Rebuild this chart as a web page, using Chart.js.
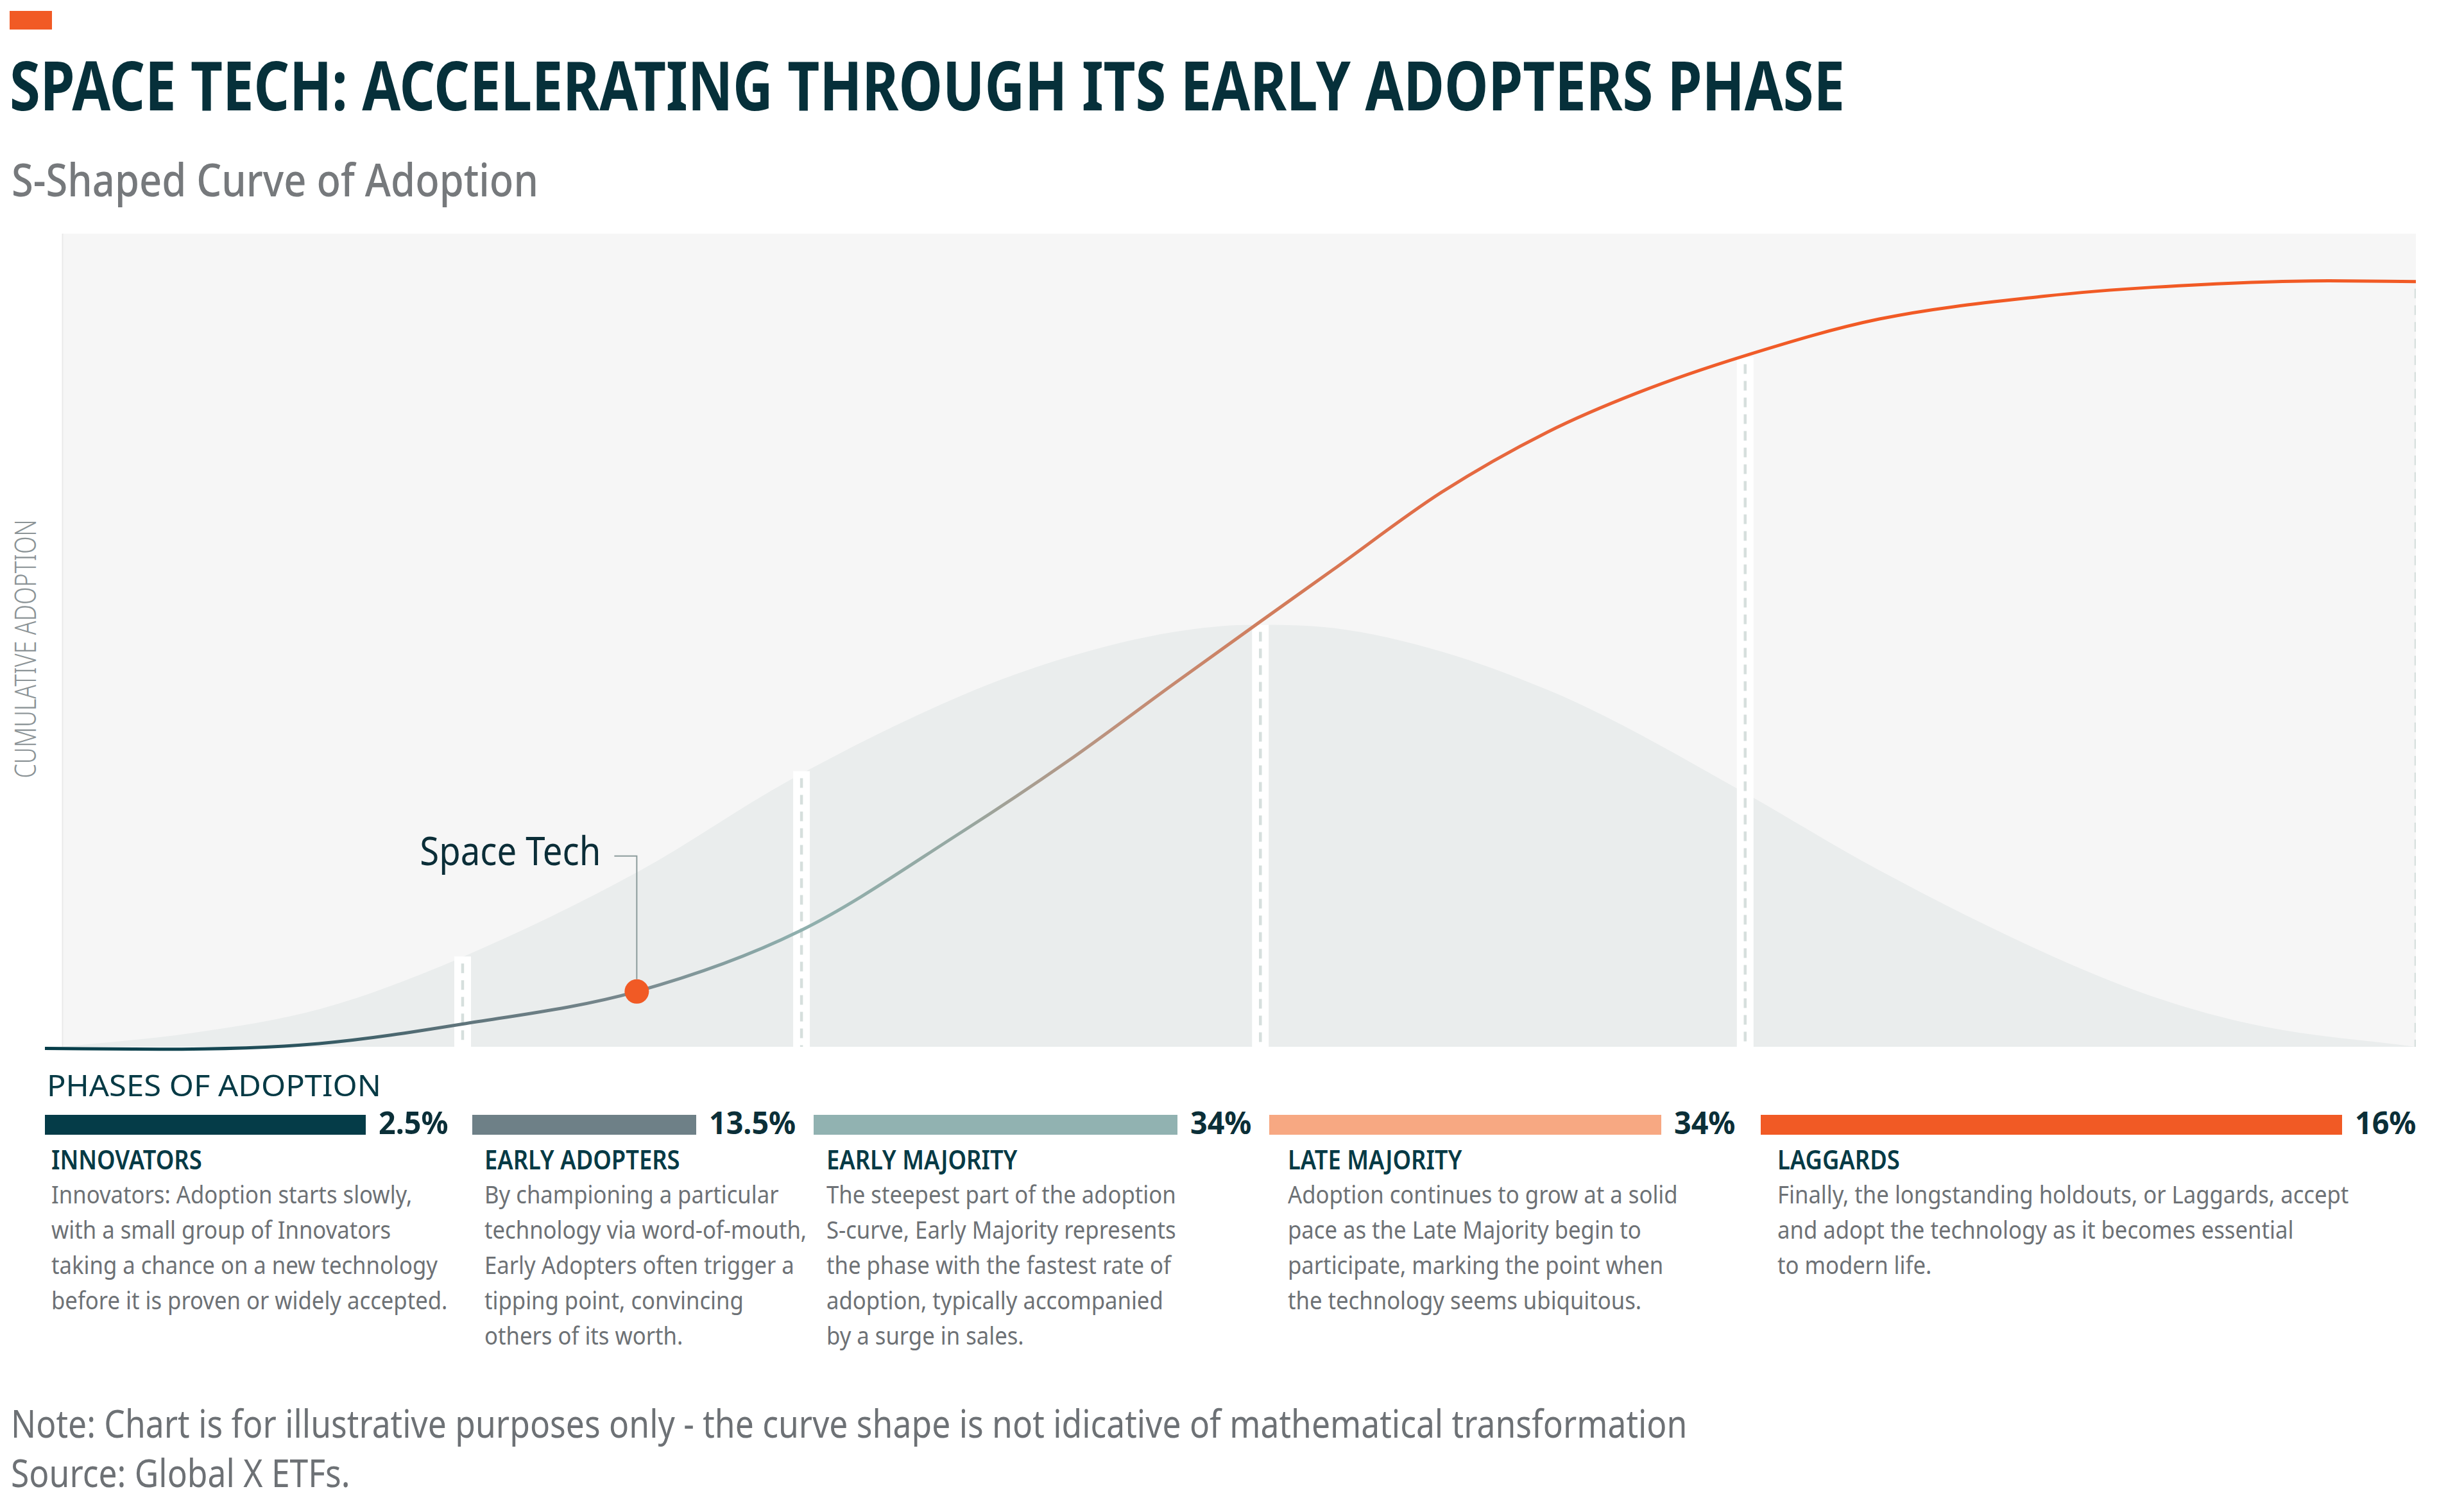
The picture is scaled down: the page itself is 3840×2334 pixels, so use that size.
<!DOCTYPE html>
<html>
<head>
<meta charset="utf-8">
<title>Space Tech: Accelerating Through Its Early Adopters Phase</title>
<script src="https://cdn.jsdelivr.net/npm/chart.js@4.4.1/dist/chart.umd.min.js"></script>
<style>
    body {
        margin: 0;
        width: 3840px;
        height: 2334px;
        position: relative;
        overflow: hidden;
        background: #ffffff;
        font-family: "Noto Sans", Roboto, "DejaVu Sans", sans-serif;
        font-stretch: condensed;
    }
    .t {
        position: absolute;
        white-space: nowrap;
        line-height: 1;
        transform-origin: 0 0;
    }
    .mark { position: absolute; left: 15px; top: 17px; width: 66px; height: 29px; background: #f15a25; }
    .title { left: 15px; top: 79px; font-size: 105px; font-weight: 700; color: #06303a; }
    .sub { left: 18px; top: 243px; font-size: 71px; font-weight: 500; color: #76797c; }
    .ylab { left: 38px; top: 1011px; font-size: 46px; font-weight: 300; color: #8b9396; transform-origin: 50% 50%; }
    .phases { left: 73px; top: 1667px; font-size: 46px; font-weight: 400; color: #063a45; font-stretch: normal; }
    .bar { position: absolute; top: 1737px; height: 31px; }
    .pct { top: 1725px; font-size: 48px; font-weight: 700; color: #0b2f38; }
    .head { top: 1786px; font-size: 41px; font-weight: 600; color: #063a45; }
    .desc { font-size: 38px; font-weight: 400; color: #6d7175; }
    .note { left: 17px; font-size: 60px; font-weight: 400; color: #6d7175; }
    #chartBox { position: absolute; left: 0; top: 300px; width: 3840px; height: 1400px; }
</style>
</head>
<body>
<div class="mark"></div>
<div class="t title" id="title">SPACE TECH: ACCELERATING THROUGH ITS EARLY ADOPTERS PHASE</div>
<div class="t sub" id="sub">S-Shaped Curve of Adoption</div>
<div class="t ylab" id="ylab">CUMULATIVE ADOPTION</div>
<div id="chartBox"><canvas id="sCurve"></canvas></div>
<div class="t phases" id="phases">PHASES OF ADOPTION</div>
<div id="legend"></div>
<div class="t note" style="top: 2187px;">Note: Chart is for illustrative purposes only - the curve shape is not idicative of mathematical transformation</div>
<div class="t note" style="top: 2264px;">Source: Global X ETFs.</div>

<script>
// 横軸: 0〜100 = 普及の時間軸（背景の左端〜右端）、縦軸: 0〜100 = 累積普及率
const curveX = [-0.75, 4.1, 10.9, 17.0, 24.4, 31.3, 38.2, 42.7, 47.2, 50.9, 54.0, 58.6, 63.1, 66.9, 71.5, 77.2, 84.2, 88.8, 96.3, 100];
const curveY = [-0.2, -0.3, 0.4, 2.8, 6.8, 14.2, 26.4, 35.1, 44.6, 52.3, 58.7, 68.2, 75.6, 80.4, 85.0, 89.5, 92.3, 93.4, 94.2, 94.1];

// 採用者分布（ベルカーブ）
const bellX = [0, 5.5, 11.0, 16.8, 24.5, 30.9, 38.2, 42.7, 47.2, 50.6, 54.0, 58.6, 63.1, 65.5, 71.5, 77.2, 84.2, 88.8, 93.5, 100];
const bellY = [0, 1.7, 4.7, 10.8, 21.6, 32.8, 43.2, 47.9, 51.0, 51.9, 51.5, 48.6, 43.9, 40.7, 31.2, 21.7, 11.6, 6.2, 2.5, 0];

// フェーズの境界と、境界線の上端
const phaseEdges = [17.0, 31.4, 50.9, 71.5, 100];
const edgeTops = [11.1, 33.9, 51.9, 84.8, 94.1];

// 現在地
const spaceTech = { x: 24.4, y: 6.8 };
const spaceTechLabel = "Space Tech";

// フェーズ一覧
const phaseNames = ["INNOVATORS", "EARLY ADOPTERS", "EARLY MAJORITY", "LATE MAJORITY", "LAGGARDS"];
const phaseShares = ["2.5%", "13.5%", "34%", "34%", "16%"];
const phaseTexts = [
    ["Innovators: Adoption starts slowly,", "with a small group of Innovators", "taking a chance on a new technology", "before it is proven or widely accepted."],
    ["By championing a particular", "technology via word-of-mouth,", "Early Adopters often trigger a", "tipping point, convincing", "others of its worth."],
    ["The steepest part of the adoption", "S-curve, Early Majority represents", "the phase with the fastest rate of", "adoption, typically accompanied", "by a surge in sales."],
    ["Adoption continues to grow at a solid", "pace as the Late Majority begin to", "participate, marking the point when", "the technology seems ubiquitous."],
    ["Finally, the longstanding holdouts, or Laggards, accept", "and adopt the technology as it becomes essential", "to modern life."],
];

// 見た目（色・レイアウト）
const phaseColors = ["#053c48", "#6e8087", "#91b2b1", "#f7a882", "#f15a25"];
const barLeft = [70, 736, 1268, 1978, 2744];
const barLen = [500, 349, 567, 611, 906];
const textLeft = [80, 755, 1288, 2007, 2770];
const curveStops = [
    [-0.75, "#053c48"], [6, "#10434f"], [16.8, "#5f747b"], [24.5, "#7a8a8f"],
    [31.3, "#8fb0ae"], [38.2, "#96a8a2"], [45, "#c0907a"], [50.9, "#d07e5e"],
    [58.5, "#e36b44"], [66.9, "#ee5f30"], [74, "#f15a25"], [100, "#f15a25"],
];

// 凡例（フェーズ）の生成
const legend = document.getElementById("legend");
phaseNames.forEach((name, i) => {
    const bar = document.createElement("div");
    bar.className = "bar";
    bar.style.left = barLeft[i] + "px";
    bar.style.width = barLen[i] + "px";
    bar.style.background = phaseColors[i];
    legend.appendChild(bar);

    const pct = document.createElement("div");
    pct.className = "t pct";
    pct.style.left = barLeft[i] + barLen[i] + 20 + "px";
    pct.textContent = phaseShares[i];
    legend.appendChild(pct);

    const head = document.createElement("div");
    head.className = "t head";
    head.style.left = textLeft[i] + "px";
    head.textContent = name;
    legend.appendChild(head);

    phaseTexts[i].forEach((line, j) => {
        const d = document.createElement("div");
        d.className = "t desc";
        d.style.left = textLeft[i] + "px";
        d.style.top = 1841 + j * 55 + "px";
        d.textContent = line;
        legend.appendChild(d);
    });
});

// 文字幅を元の図に合わせる
function fitTo(el, w, pre) {
    const k = w / el.offsetWidth;
    el.style.transform = (pre || "") + " scaleX(" + k.toFixed(4) + ")";
    return k;
}
function fitGroup(selector, ref, w) {
    const k = w / ref.offsetWidth;
    document.querySelectorAll(selector).forEach((el) => {
        el.style.transform = "scaleX(" + k.toFixed(4) + ")";
    });
}
fitTo(document.getElementById("title"), 2860);
fitTo(document.getElementById("sub"), 821);
fitTo(document.getElementById("phases"), 521);
fitTo(document.getElementById("ylab"), 403, "translate(-50%, -50%) rotate(-90deg)");
const heads = document.querySelectorAll(".head");
fitGroup(".head", heads[1], 305);
const pcts = document.querySelectorAll(".pct");
fitGroup(".pct", pcts[1], 135);
const descs = document.querySelectorAll(".desc");
fitGroup(".desc", descs[3], 617);
const notes = document.querySelectorAll(".note");
fitGroup(".note", notes[0], 2612);

// S字カーブのグラデーション
function curveGradient(context) {
    const chart = context.chart;
    const area = chart.chartArea;
    if (!area) return curveStops[0][1];
    const xs = chart.scales.x;
    const g = chart.ctx.createLinearGradient(area.left, 0, area.right, 0);
    curveStops.forEach(([v, col]) => {
        const t = (xs.getPixelForValue(v) - area.left) / (area.right - area.left);
        g.addColorStop(Math.min(1, Math.max(0, t)), col);
    });
    return g;
}

// 背景（プロット領域）
const plotBg = {
    id: "plotBg",
    beforeDatasetsDraw(chart) {
        const { ctx, chartArea, scales } = chart;
        const l = scales.x.getPixelForValue(0);
        const r = scales.x.getPixelForValue(100);
        ctx.save();
        ctx.fillStyle = "#f6f6f6";
        ctx.fillRect(l, chartArea.top, r - l, chartArea.bottom - chartArea.top);
        ctx.strokeStyle = "#e9e9e9";
        ctx.lineWidth = 2;
        ctx.beginPath();
        ctx.moveTo(l, chartArea.top);
        ctx.lineTo(l, chartArea.bottom);
        ctx.stroke();
        ctx.restore();
    },
};

// 「Space Tech」の引き出し線とラベル
const spaceTechNote = {
    id: "spaceTechNote",
    afterDatasetsDraw(chart) {
        const p = chart.getDatasetMeta(0).data[0];
        const ctx = chart.ctx;
        ctx.save();
        ctx.strokeStyle = "#8c9c9c";
        ctx.lineWidth = 2;
        ctx.beginPath();
        ctx.moveTo(p.x, p.y - 19);
        ctx.lineTo(p.x, p.y - 211);
        ctx.lineTo(p.x - 35, p.y - 211);
        ctx.stroke();
        ctx.font = '400 62px "Noto Sans", Roboto, sans-serif';
        if ("fontStretch" in ctx) ctx.fontStretch = "condensed";
        ctx.fillStyle = "#0b2e38";
        ctx.textAlign = "right";
        ctx.textBaseline = "alphabetic";
        const k = 282 / ctx.measureText(spaceTechLabel).width;
        ctx.translate(p.x - 56, p.y - 197);
        ctx.scale(k, 1);
        ctx.fillText(spaceTechLabel, 0, 0);
        ctx.restore();
    },
};

const edgeDashes = phaseEdges.map((e, i) => ({
    label: "edge-dash-" + i,
    data: [{ x: e, y: edgeTops[i] }, { x: e, y: 0 }],
    borderColor: "#d6dfdd",
    borderWidth: 4.5,
    borderDash: [15, 11],
    borderDashOffset: 15,
    borderCapStyle: "butt",
    pointRadius: 0,
    order: 2,
}));
const edgeBands = phaseEdges.slice(0, -1).map((e, i) => ({
    label: "edge-band-" + i,
    data: [{ x: e, y: 0 }, { x: e, y: edgeTops[i] }],
    borderColor: "#ffffff",
    borderWidth: 26,
    borderCapStyle: "butt",
    pointRadius: 0,
    order: 3,
}));

new Chart(document.getElementById("sCurve"), {
    type: "line",
    data: {
        datasets: [
            {
                type: "scatter",
                label: spaceTechLabel,
                data: [spaceTech],
                pointRadius: 19,
                pointBackgroundColor: "#f15a25",
                pointBorderWidth: 0,
                clip: false,
                order: 0,
            },
            {
                label: "Cumulative adoption",
                data: curveX.map((x, i) => ({ x: x, y: curveY[i] })),
                borderColor: curveGradient,
                borderWidth: 5,
                pointRadius: 0,
                cubicInterpolationMode: "monotone",
                clip: false,
                order: 1,
            },
            ...edgeDashes,
            ...edgeBands,
            {
                label: "Adopters",
                data: bellX.map((x, i) => ({ x: x, y: bellY[i] })),
                fill: "origin",
                backgroundColor: "#eaeded",
                borderWidth: 0,
                pointRadius: 0,
                cubicInterpolationMode: "monotone",
                order: 4,
            },
        ],
    },
    options: {
        responsive: true,
        maintainAspectRatio: false,
        animation: false,
        layout: {
            padding: { left: 70, right: 75, top: 64, bottom: 69 },
        },
        scales: {
            x: { type: "linear", min: -0.75, max: 100, display: false },
            y: { type: "linear", min: 0, max: 100, display: false },
        },
        plugins: {
            legend: { display: false },
            tooltip: { enabled: false },
        },
    },
    plugins: [plotBg, spaceTechNote],
});
</script>
</body>
</html>
